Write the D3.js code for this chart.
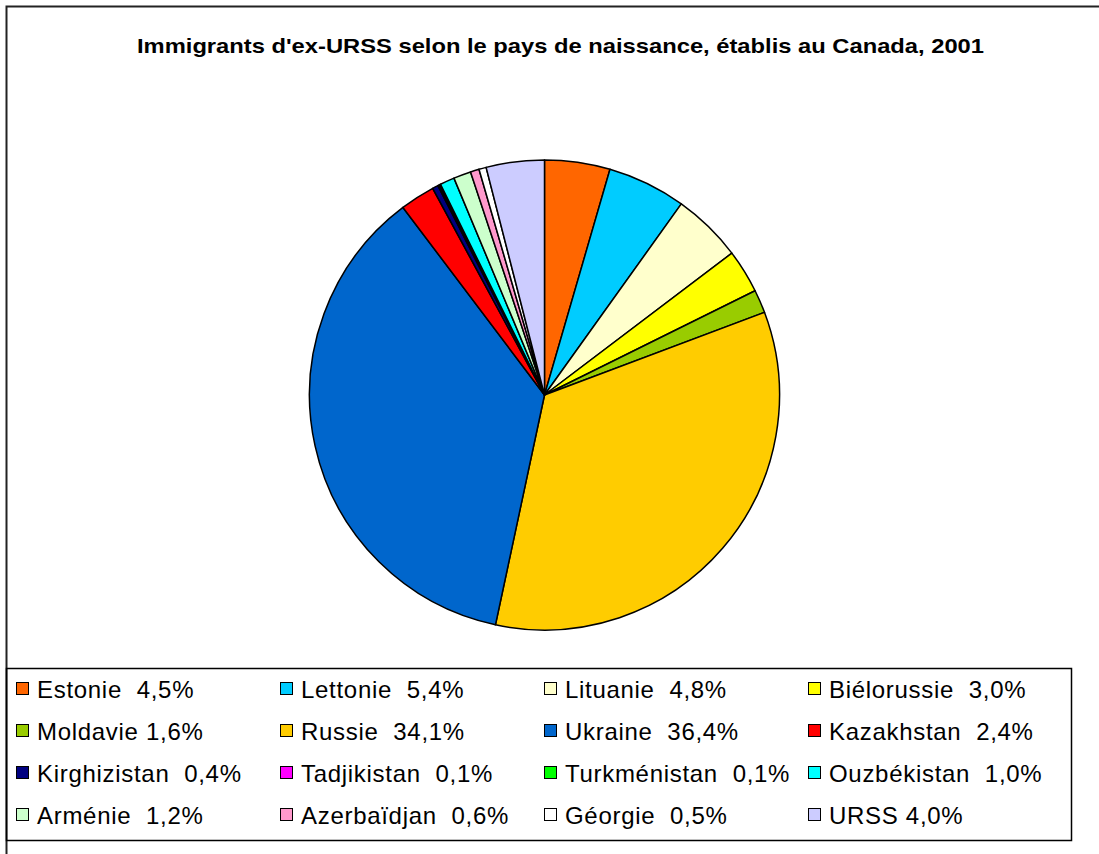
<!DOCTYPE html>
<html>
<head>
<meta charset="utf-8">
<script src="https://cdn.jsdelivr.net/npm/d3@7"></script>
<style>
  body { margin: 0; background: #fff; }
  text { font-family: 'Liberation Sans', Arial, sans-serif; }
</style>
</head>
<body>
<div id="chart"></div>
<script>
const WIDTH = 1099
const HEIGHT = 854

// data, clockwise from 12 o'clock
const countries = ['Estonie', 'Lettonie', 'Lituanie', 'Biélorussie', 'Moldavie', 'Russie', 'Ukraine', 'Kazakhstan',
  'Kirghizistan', 'Tadjikistan', 'Turkménistan', 'Ouzbékistan', 'Arménie', 'Azerbaïdjan', 'Géorgie', 'URSS']
const shares = [4.5, 5.4, 4.8, 3.0, 1.6, 34.1, 36.4, 2.4, 0.4, 0.1, 0.1, 1.0, 1.2, 0.6, 0.5, 4.0]
const legendLabels = ['Estonie  4,5%', 'Lettonie  5,4%', 'Lituanie  4,8%', 'Biélorussie  3,0%',
  'Moldavie 1,6%', 'Russie  34,1%', 'Ukraine  36,4%', 'Kazakhstan  2,4%',
  'Kirghizistan  0,4%', 'Tadjikistan  0,1%', 'Turkménistan  0,1%', 'Ouzbékistan  1,0%',
  'Arménie  1,2%', 'Azerbaïdjan  0,6%', 'Géorgie  0,5%', 'URSS 4,0%']
const sliceColors = ['#FF6600', '#00CCFF', '#FFFFCC', '#FFFF00', '#99CC00', '#FFCC00', '#0066CC', '#FF0000',
  '#000080', '#FF00FF', '#00FF00', '#00FFFF', '#CCFFCC', '#FF99CC', '#FFFFFF', '#CCCCFF']

const svg = d3.select('#chart')
  .append('svg')
  .attr('width', WIDTH)
  .attr('height', HEIGHT)

// outer frame (runs past the right/bottom edges)
svg.append('rect')
  .attr('x', 6.5)
  .attr('y', 6.5)
  .attr('width', 1200)
  .attr('height', 1000)
  .attr('fill', '#fff')
  .attr('stroke', '#222')
  .attr('stroke-width', 2)

svg.append('text')
  .attr('x', 137)
  .attr('y', 53)
  .attr('textLength', 847)
  .attr('lengthAdjust', 'spacingAndGlyphs')
  .style('font-size', '21px')
  .style('font-weight', 'bold')
  .text("Immigrants d'ex-URSS selon le pays de naissance, établis au Canada, 2001")

// pie
const color = d3.scaleOrdinal().domain(countries).range(sliceColors)
const pie = d3.pie().sort(null).value(i => shares[i])
const arc = d3.arc().innerRadius(0).outerRadius(235)

svg.append('g')
  .attr('transform', 'translate(544.5,395)')
  .selectAll('path')
  .data(pie(d3.range(countries.length)))
  .enter()
  .append('path')
  .attr('d', arc)
  .attr('fill', d => color(countries[d.data]))
  .attr('stroke', '#000')
  .attr('stroke-width', 1.5)
  .attr('stroke-linejoin', 'round')

// legend
const legend = svg.append('g')
svg.append('rect')
  .attr('x', 6.5)
  .attr('y', 668.5)
  .attr('width', 1065)
  .attr('height', 172)
  .attr('fill', 'none')
  .attr('stroke', '#000')
  .attr('stroke-width', 1.5)

const colX = d3.scalePoint().domain([0, 1, 2, 3]).range([16, 808])
const rowY = d3.scalePoint().domain([0, 1, 2, 3]).range([689, 815])

const items = legend.selectAll('g')
  .data(countries)
  .enter()
  .append('g')
  .attr('transform', (d, i) => `translate(${colX(i % 4)},${rowY(Math.floor(i / 4))})`)

items.append('rect')
  .attr('x', 0.5)
  .attr('y', -6.5)
  .attr('width', 12)
  .attr('height', 12)
  .attr('fill', d => color(d))
  .attr('stroke', '#000')
  .attr('stroke-width', 1)

items.append('text')
  .attr('x', 21)
  .attr('y', 8.5)
  .style('font-size', '24px')
  .style('letter-spacing', '0.7px')
  .style('white-space', 'pre')
  .attr('xml:space', 'preserve')
  .text((d, i) => legendLabels[i])
</script>
</body>
</html>
